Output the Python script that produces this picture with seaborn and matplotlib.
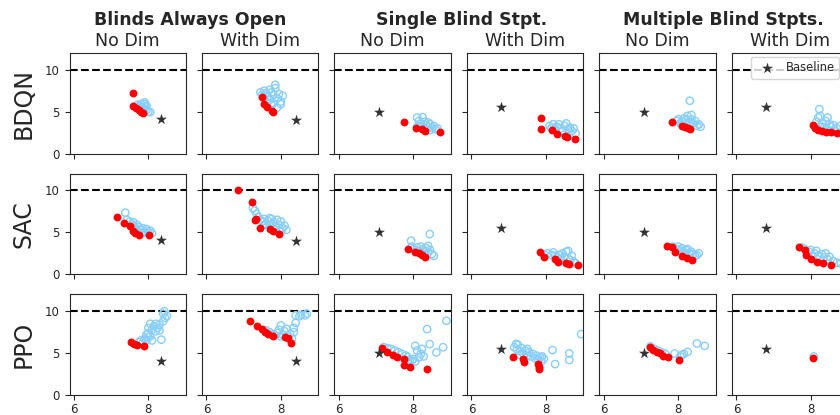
import numpy as np
import pandas as pd
import seaborn as sns
import matplotlib
matplotlib.use("Agg")
import matplotlib.pyplot as plt

# labels
algos = ["BDQN", "SAC", "PPO"]
groups = ["Blinds Always Open", "Single Blind Stpt.", "Multiple Blind Stpts."]
dims = ["No Dim", "With Dim"]
x_ticks = [6, 8]
y_ticks = [0, 5, 10]
target = 10

# baseline star, one per column (same for every algorithm)
baseline_x = [8.35, 8.40, 7.07, 6.80, 7.08, 6.80]
baseline_y = [4.1, 4.0, 5.0, 5.5, 5.0, 5.5]

# ---- BDQN ----
bdqn_c1_blue = [(7.70, 5.8), (7.75, 5.6), (7.80, 5.9), (7.85, 5.5), (7.90, 6.1), (7.95, 5.7), (7.90, 5.3),
                (7.85, 5.2), (8.00, 5.0), (7.95, 5.2), (7.80, 5.4), (7.70, 5.5), (7.90, 5.9), (8.05, 4.95),
                (7.75, 5.3), (7.92, 5.6)]
bdqn_c1_red = [(7.59, 7.26), (7.60, 5.68), (7.68, 5.4), (7.74, 5.15), (7.80, 4.95), (7.86, 4.9)]

bdqn_c2_blue = [(7.45, 7.3), (7.50, 7.0), (7.55, 7.5), (7.60, 7.2), (7.65, 6.8), (7.70, 7.6), (7.75, 7.3),
                (7.80, 7.0), (7.85, 8.2), (7.85, 7.8), (7.90, 6.6), (7.95, 7.1), (8.00, 6.2), (8.05, 6.9),
                (7.70, 6.4), (7.60, 6.2), (7.80, 6.0), (7.90, 5.5), (7.75, 5.8), (8.00, 5.9), (7.55, 6.6)]
bdqn_c2_red = [(7.49, 6.74), (7.56, 5.88), (7.62, 5.6), (7.76, 5.1), (7.80, 4.98)]

bdqn_c3_blue = [(8.10, 4.3), (8.25, 4.35), (8.15, 3.9), (8.20, 3.6), (8.30, 3.8), (8.35, 3.4), (8.40, 3.2),
                (8.45, 3.5), (8.50, 3.1), (8.55, 3.3), (8.60, 2.9), (8.65, 3.0), (8.10, 3.2), (8.30, 3.0),
                (8.45, 2.8), (8.20, 3.3), (8.40, 3.7)]
bdqn_c3_red = [(7.76, 3.8), (8.07, 3.02), (8.23, 2.94), (8.32, 2.75), (8.71, 2.55)]

bdqn_c4_blue = [(8.10, 3.3), (8.20, 3.5), (8.30, 3.2), (8.35, 3.5), (8.40, 3.0), (8.50, 3.3), (8.55, 3.6),
                (8.60, 2.9), (8.65, 3.1), (8.70, 2.7), (8.80, 2.4), (8.25, 2.9), (8.45, 2.7), (8.75, 3.0),
                (8.15, 3.0)]
bdqn_c4_red = [(7.87, 4.24), (7.87, 2.94), (8.16, 2.82), (8.30, 2.35), (8.52, 2.15), (8.57, 1.96), (8.79, 1.76)]

bdqn_c5_blue = [(8.31, 6.3), (7.95, 3.9), (8.00, 4.1), (8.10, 3.8), (8.15, 4.2), (8.20, 4.0), (8.25, 4.5),
                (8.30, 3.7), (8.35, 4.1), (8.40, 3.6), (8.45, 3.9), (8.50, 3.3), (8.55, 3.5), (8.60, 3.2),
                (8.20, 3.5), (8.35, 4.6), (8.05, 3.6)]
bdqn_c5_red = [(7.83, 3.73), (8.10, 3.33), (8.19, 3.2), (8.25, 3.05), (8.31, 2.94)]

bdqn_c6_blue = [(8.23, 5.3), (8.25, 4.5), (8.20, 4.3), (8.45, 4.3), (8.15, 3.8), (8.30, 3.6), (8.40, 3.9),
                (8.50, 3.5), (8.55, 3.2), (8.35, 3.1), (8.60, 3.4), (8.70, 3.0), (8.80, 3.3), (8.25, 3.2),
                (8.45, 2.8), (8.65, 2.7)]
bdqn_c6_red = [(8.05, 3.4), (8.10, 3.0), (8.20, 2.8), (8.30, 2.7), (8.40, 2.6), (8.55, 2.55), (8.70, 2.45)]

# ---- SAC ----
sac_c1_blue = [(7.38, 7.35), (7.42, 6.5), (7.50, 6.3), (7.55, 6.0), (7.60, 5.8), (7.65, 5.5), (7.70, 5.9),
               (7.75, 5.6), (7.80, 5.3), (7.85, 5.5), (7.90, 5.1), (7.95, 5.4), (8.00, 5.0), (8.05, 5.2),
               (8.10, 4.9), (7.70, 5.2), (7.85, 4.9), (7.60, 6.2)]
sac_c1_red = [(7.17, 6.82), (7.35, 6.16), (7.51, 5.76), (7.60, 5.17), (7.65, 4.9), (7.74, 4.7), (8.01, 4.66)]

sac_c2_blue = [(7.25, 7.9), (7.30, 7.6), (7.35, 7.2), (7.40, 6.8), (7.45, 6.5), (7.50, 6.3), (7.55, 6.6),
               (7.60, 6.0), (7.65, 6.4), (7.70, 5.8), (7.75, 6.6), (7.80, 6.2), (7.85, 5.6), (7.90, 6.5),
               (7.95, 5.9), (8.00, 6.3), (8.05, 5.5), (8.10, 5.8), (8.15, 5.3), (7.55, 5.9), (7.70, 6.7),
               (7.85, 5.3), (8.00, 5.1)]
sac_c2_red = [(6.84, 10.1), (7.22, 8.6), (7.30, 6.5), (7.32, 6.63), (7.44, 5.57), (7.71, 5.45), (7.80, 5.17),
              (7.94, 4.86)]

sac_c3_blue = [(7.94, 4.0), (8.44, 4.8), (7.95, 3.3), (8.00, 3.0), (8.10, 3.2), (8.15, 2.8), (8.20, 3.3),
               (8.25, 3.0), (8.30, 2.7), (8.35, 3.1), (8.40, 2.6), (8.45, 2.9), (8.50, 2.4), (8.55, 2.2),
               (8.30, 2.3), (8.20, 2.6), (8.40, 3.4)]
sac_c3_red = [(7.86, 3.0), (8.05, 2.7), (8.14, 2.5), (8.23, 2.3), (8.32, 2.1)]

sac_c4_blue = [(7.95, 2.4), (8.05, 2.5), (8.15, 2.3), (8.20, 2.6), (8.30, 2.0), (8.35, 2.3), (8.40, 1.9),
               (8.45, 2.5), (8.50, 2.1), (8.55, 2.7), (8.60, 2.8), (8.65, 1.7), (8.70, 2.2), (8.75, 1.5),
               (8.80, 1.3), (8.40, 1.6), (8.25, 2.2), (8.60, 1.9)]
sac_c4_red = [(7.83, 2.62), (7.94, 2.1), (8.25, 1.83), (8.32, 1.44), (8.55, 1.32), (8.61, 1.24), (8.86, 1.12)]

sac_c5_blue = [(7.85, 3.3), (7.95, 3.0), (8.00, 3.3), (8.05, 2.8), (8.10, 3.1), (8.15, 2.6), (8.20, 2.9),
               (8.25, 3.0), (8.30, 2.5), (8.35, 2.7), (8.40, 2.4), (8.50, 2.3), (8.55, 2.5), (8.45, 2.2),
               (8.20, 2.4)]
sac_c5_red = [(7.69, 3.4), (7.83, 3.2), (7.92, 2.62), (8.10, 2.22), (8.24, 1.95), (8.37, 1.71)]

sac_c6_blue = [(7.75, 3.2), (7.85, 3.0), (7.95, 2.7), (8.00, 2.9), (8.10, 2.5), (8.15, 2.8), (8.20, 2.2),
               (8.30, 2.4), (8.35, 2.0), (8.40, 2.5), (8.45, 1.8), (8.50, 2.1), (8.60, 1.6), (8.70, 1.4),
               (8.80, 1.3), (8.05, 2.2)]
sac_c6_red = [(7.69, 3.28), (7.85, 2.9), (7.87, 2.34), (8.01, 1.83), (8.16, 1.51), (8.34, 1.32), (8.54, 1.16)]

# ---- PPO ----
ppo_c1_blue = [(7.75, 6.3), (7.80, 6.5), (7.85, 6.2), (7.90, 6.7), (7.95, 6.5), (8.00, 6.9), (8.00, 7.4),
               (8.05, 7.0), (8.10, 7.8), (8.10, 6.5), (8.15, 8.2), (8.20, 7.6), (8.20, 8.5), (8.25, 8.0),
               (8.30, 7.7), (8.30, 8.4), (8.35, 6.6), (8.40, 8.8), (8.45, 9.2), (8.40, 9.7), (8.43, 10.0),
               (8.50, 9.4), (8.00, 8.0), (8.05, 8.5), (7.95, 7.2)]
ppo_c1_red = [(7.53, 6.27), (7.62, 6.07), (7.69, 5.95), (7.89, 5.8)]

ppo_c2_blue = [(7.60, 7.7), (7.70, 7.5), (7.75, 7.2), (7.85, 7.1), (7.90, 7.4), (7.95, 7.8), (8.00, 8.3),
               (8.05, 7.2), (8.10, 7.6), (8.15, 7.9), (8.20, 7.0), (8.25, 7.3), (8.30, 6.7), (8.35, 7.5),
               (8.35, 8.0), (8.40, 8.6), (8.40, 9.5), (8.50, 9.4), (8.55, 9.6), (8.65, 9.5), (8.70, 9.7),
               (8.00, 7.0)]
ppo_c2_red = [(7.17, 8.85), (7.35, 8.18), (7.49, 7.86), (7.58, 7.54), (7.66, 7.26), (7.80, 6.99), (8.12, 6.87),
              (8.19, 6.75), (8.28, 6.15)]

ppo_c3_blue = [(7.20, 5.7), (7.30, 5.6), (7.40, 5.5), (7.50, 5.3), (7.60, 5.1), (7.70, 4.9), (7.80, 4.7),
               (7.85, 4.5), (7.90, 4.2), (7.96, 4.1), (8.05, 5.87), (8.10, 5.3), (8.15, 4.5), (8.20, 4.9),
               (8.23, 5.5), (8.28, 4.6), (8.37, 7.86), (8.44, 6.07), (8.62, 5.08), (8.80, 5.7), (8.89, 8.85),
               (8.00, 4.3), (8.05, 4.0)]
ppo_c3_red = [(7.15, 5.6), (7.29, 5.08), (7.45, 4.76), (7.56, 4.48), (7.74, 4.28), (7.76, 3.57), (7.92, 3.3),
              (8.37, 3.1)]

ppo_c4_blue = [(7.15, 5.7), (7.20, 6.1), (7.22, 5.4), (7.25, 6.0), (7.30, 5.2), (7.35, 5.6), (7.40, 4.9),
               (7.45, 5.3), (7.50, 4.7), (7.55, 5.1), (7.60, 4.6), (7.65, 4.9), (7.70, 4.4), (7.75, 4.7),
               (7.80, 4.2), (7.85, 4.5), (7.90, 4.6), (7.95, 4.3), (7.88, 4.0), (8.18, 5.36), (8.25, 3.69),
               (8.63, 4.96), (8.63, 4.17), (8.95, 7.26), (7.30, 4.8), (7.50, 5.5)]
ppo_c4_red = [(7.12, 4.48), (7.38, 4.28), (7.42, 3.89), (7.80, 3.69), (7.82, 3.1), (7.81, 3.35)]

ppo_c5_blue = [(7.25, 5.8), (7.35, 5.5), (7.45, 5.3), (7.55, 5.1), (7.65, 4.9), (7.90, 4.95), (8.05, 4.6),
               (8.10, 4.8), (8.15, 4.9), (8.25, 5.15), (8.50, 6.15), (8.71, 5.87)]
ppo_c5_red = [(7.24, 5.68), (7.33, 5.36), (7.42, 5.15), (7.51, 4.96), (7.60, 4.68), (7.72, 4.56), (8.01, 4.17)]

ppo_c6_blue = [(8.08, 4.6)]
ppo_c6_red = [(8.07, 4.4)]

blue_pts = [
    [bdqn_c1_blue, bdqn_c2_blue, bdqn_c3_blue, bdqn_c4_blue, bdqn_c5_blue, bdqn_c6_blue],
    [sac_c1_blue, sac_c2_blue, sac_c3_blue, sac_c4_blue, sac_c5_blue, sac_c6_blue],
    [ppo_c1_blue, ppo_c2_blue, ppo_c3_blue, ppo_c4_blue, ppo_c5_blue, ppo_c6_blue],
]
red_pts = [
    [bdqn_c1_red, bdqn_c2_red, bdqn_c3_red, bdqn_c4_red, bdqn_c5_red, bdqn_c6_red],
    [sac_c1_red, sac_c2_red, sac_c3_red, sac_c4_red, sac_c5_red, sac_c6_red],
    [ppo_c1_red, ppo_c2_red, ppo_c3_red, ppo_c4_red, ppo_c5_red, ppo_c6_red],
]

sns.set_style("ticks")
plt.rcParams["font.family"] = ["DejaVu Sans"]

fig, axes = plt.subplots(3, 6, figsize=(8.4, 4.15), dpi=100, sharex=True, sharey=True)
# last column runs off the right edge, as in the original
fig.subplots_adjust(left=69.5 / 840, right=848 / 840, top=1 - 53 / 415, bottom=1 - 395 / 415,
                    wspace=0.142, hspace=0.2)

for r in range(3):
    for c in range(6):
        ax = axes[r, c]
        blue = pd.DataFrame(blue_pts[r][c], columns=["x", "y"])
        red = pd.DataFrame(red_pts[r][c], columns=["x", "y"])
        ax.axhline(target, color="black", linestyle="--", linewidth=1.5, zorder=1)
        sns.scatterplot(data=blue, x="x", y="y", ax=ax, s=28, facecolor="none",
                        edgecolor="lightskyblue", linewidth=1.0, zorder=2)
        sns.scatterplot(data=red, x="x", y="y", ax=ax, s=32, color="red",
                        edgecolor="red", linewidth=0, zorder=3)
        sns.scatterplot(x=[baseline_x[c]], y=[baseline_y[c]], ax=ax, marker="*", s=70,
                        color="#333333", edgecolor="#333333", linewidth=0, zorder=4,
                        label="Baseline" if (r == 0 and c == 5) else None, legend=False)
        ax.set_xlim(5.88, 9.0)
        ax.set_ylim(0, 12)
        ax.set_xticks(x_ticks)
        ax.set_yticks(y_ticks)
        ax.set_xlabel("")
        ax.set_ylabel("")
        ax.tick_params(labelsize=8.5)
        ax.tick_params(axis="x", pad=2)
        if r == 0:
            ax.set_title(dims[c % 2], fontsize=12.5, pad=5)
    axes[r, 0].set_ylabel(algos[r], fontsize=17, labelpad=7)

group_x = [190, 462, 723]
for g, name in enumerate(groups):
    fig.text(group_x[g] / 840, 1 - 20 / 415, name, ha="center", va="center",
             fontsize=12.5, fontweight="bold")

h, l = axes[0, 5].get_legend_handles_labels()
axes[0, 5].legend(h, l, loc="upper left", bbox_to_anchor=(0.165, 0.965), borderaxespad=0,
                  fontsize=8.3, handletextpad=0.6, frameon=True)

fig.savefig("out.png", dpi=100)
